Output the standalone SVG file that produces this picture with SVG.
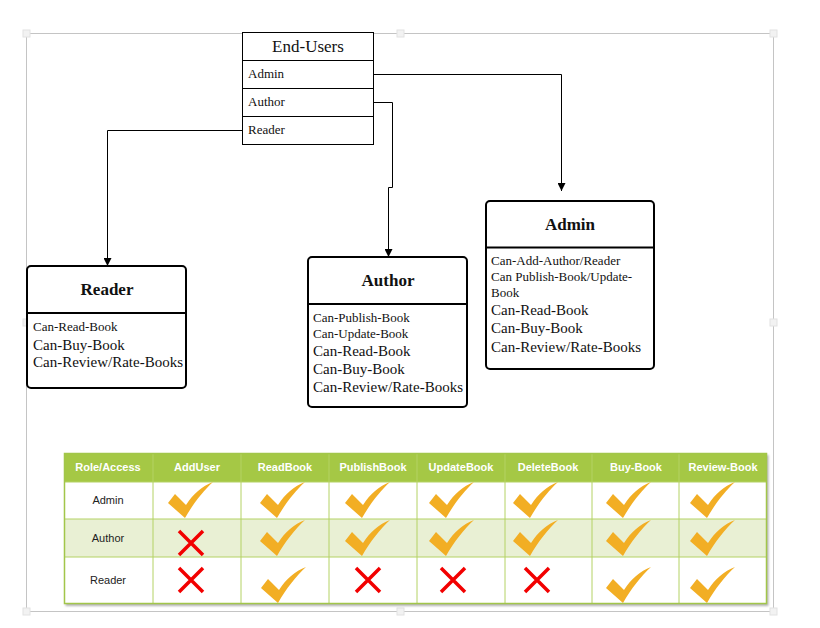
<svg xmlns="http://www.w3.org/2000/svg" width="820" height="628" viewBox="0 0 820 628">
<style>
.frame{fill:none;stroke:#c4c4c4;stroke-width:1}
.handle{fill:#f2f2f2;stroke:#e2e2e2;stroke-width:1}
.box{fill:#fff;stroke:#000;stroke-width:1}
.rbox{fill:#fff;stroke:#000;stroke-width:2}
.div{stroke:#000;stroke-width:2}
.conn{fill:none;stroke:#000;stroke-width:1}
.serif{font-family:"Liberation Serif","Times New Roman",serif;fill:#111}
.title{font-size:17px;font-weight:bold;text-anchor:middle}
.sm{font-size:13px}
.lg{font-size:15px}
.th{font-family:"Liberation Sans",Arial,sans-serif;font-size:11px;font-weight:bold;fill:#fff;text-anchor:middle}
.td{font-family:"Liberation Sans",Arial,sans-serif;font-size:11px;fill:#222;text-anchor:middle}
.grid{stroke:#b4d265;stroke-width:1}
.check{fill:#f2ae24}
.cross{stroke:#f20000;stroke-width:3.5;fill:none}
</style>
<defs>
<marker id="arr" viewBox="0 0 10 10" refX="10" refY="5" markerWidth="8" markerHeight="8" orient="auto" markerUnits="userSpaceOnUse">
<path d="M0,0 L10,5 L0,10 Z" fill="#000"/>
</marker>
<path id="chk" class="check" d="M0,0 L-17,-15 L-10,-24 L1,-13 C8,-24 17,-32 28,-36 C18,-27 8,-14 0,0 Z"/>
<path id="x" class="cross" d="M-12,-12 L12,12 M12,-12 L-12,12"/>
<filter id="sh" x="-5%" y="-5%" width="110%" height="115%">
<feDropShadow dx="1.5" dy="2" stdDeviation="1.2" flood-color="#000" flood-opacity="0.3"/>
</filter>
</defs>
<rect width="820" height="628" fill="#fff"/>
<g id="frame">
<rect class="frame" x="26.5" y="33.5" width="747" height="578"/>
<rect class="handle" x="23" y="30" width="7" height="7"/>
<rect class="handle" x="397" y="30" width="7" height="7"/>
<rect class="handle" x="770" y="30" width="7" height="7"/>
<rect class="handle" x="23" y="319" width="7" height="7"/>
<rect class="handle" x="770" y="319" width="7" height="7"/>
<rect class="handle" x="23" y="608" width="7" height="7"/>
<rect class="handle" x="397" y="608" width="7" height="7"/>
<rect class="handle" x="770" y="608" width="7" height="7"/>
</g>
<g id="connectors">
<path class="conn" d="M374,74.5 H561.5 V191" marker-end="url(#arr)"/>
<path class="conn" d="M374,102.5 H392.5 V187.5 H388.5 V257" marker-end="url(#arr)"/>
<path class="conn" d="M242,130.5 H107.5 V266" marker-end="url(#arr)"/>
</g>
<g id="end-users">
<rect class="box" x="242.5" y="32.5" width="131" height="112"/>
<line class="conn" x1="242.5" y1="60.5" x2="373.5" y2="60.5"/>
<line class="conn" x1="242.5" y1="88.5" x2="373.5" y2="88.5"/>
<line class="conn" x1="242.5" y1="116.5" x2="373.5" y2="116.5"/>
<text class="serif" x="308" y="52" font-size="17" text-anchor="middle">End-Users</text>
<text class="serif sm" x="248" y="78">Admin</text>
<text class="serif sm" x="248" y="106">Author</text>
<text class="serif sm" x="248" y="134">Reader</text>
</g>
<g id="reader">
<rect class="rbox" x="27" y="266" width="159" height="122" rx="4"/>
<line class="div" x1="27" y1="313" x2="186" y2="313"/>
<text class="serif title" x="107" y="295">Reader</text>
<text class="serif sm" x="33" y="331">Can-Read-Book</text>
<text class="serif lg" x="33" y="350">Can-Buy-Book</text>
<text class="serif lg" x="33" y="367">Can-Review/Rate-Books</text>
</g>
<g id="author">
<rect class="rbox" x="308" y="257" width="159" height="150" rx="4"/>
<line class="div" x1="308" y1="304" x2="467" y2="304"/>
<text class="serif title" x="388" y="286">Author</text>
<text class="serif sm" x="313" y="322">Can-Publish-Book</text>
<text class="serif sm" x="313" y="338">Can-Update-Book</text>
<text class="serif lg" x="313" y="356">Can-Read-Book</text>
<text class="serif lg" x="313" y="374">Can-Buy-Book</text>
<text class="serif lg" x="313" y="392">Can-Review/Rate-Books</text>
</g>
<g id="admin">
<rect class="rbox" x="486" y="201" width="168" height="168" rx="4"/>
<line class="div" x1="486" y1="247.5" x2="654" y2="247.5"/>
<text class="serif title" x="570" y="230">Admin</text>
<text class="serif sm" x="491" y="265">Can-Add-Author/Reader</text>
<text class="serif sm" x="491" y="281">Can Publish-Book/Update-</text>
<text class="serif sm" x="491" y="297">Book</text>
<text class="serif lg" x="491" y="315">Can-Read-Book</text>
<text class="serif lg" x="491" y="333">Can-Buy-Book</text>
<text class="serif lg" x="491" y="352">Can-Review/Rate-Books</text>
</g>
<g id="access-table">
<rect x="64" y="453" width="703" height="151" fill="#fff" filter="url(#sh)"/>
<rect x="64" y="453" width="703" height="29" fill="#a5c845"/>
<rect x="64" y="519" width="703" height="38" fill="#e9f0d4"/>
<g class="grid">
<line x1="64" y1="482" x2="767" y2="482"/>
<line x1="64" y1="519" x2="767" y2="519"/>
<line x1="64" y1="557" x2="767" y2="557"/>
<line x1="153" y1="453" x2="153" y2="604"/>
<line x1="241" y1="453" x2="241" y2="604"/>
<line x1="329" y1="453" x2="329" y2="604"/>
<line x1="417" y1="453" x2="417" y2="604"/>
<line x1="505" y1="453" x2="505" y2="604"/>
<line x1="592" y1="453" x2="592" y2="604"/>
<line x1="679" y1="453" x2="679" y2="604"/>
</g>
<rect x="64.5" y="453.5" width="702" height="150" fill="none" stroke="#a2c64a" stroke-width="1.5"/>
<text class="th" x="108" y="471">Role/Access</text>
<text class="th" x="197" y="471">AddUser</text>
<text class="th" x="285" y="471">ReadBook</text>
<text class="th" x="373" y="471">PublishBook</text>
<text class="th" x="461" y="471">UpdateBook</text>
<text class="th" x="548" y="471">DeleteBook</text>
<text class="th" x="636" y="471">Buy-Book</text>
<text class="th" x="723" y="471">Review-Book</text>
<text class="td" x="108" y="504">Admin</text>
<text class="td" x="108" y="542">Author</text>
<text class="td" x="108" y="584">Reader</text>
<use href="#chk" x="185" y="518"/>
<use href="#chk" x="277" y="518"/>
<use href="#chk" x="362" y="518"/>
<use href="#chk" x="446" y="518"/>
<use href="#chk" x="530" y="518"/>
<use href="#chk" x="623" y="518"/>
<use href="#chk" x="707" y="518"/>
<use href="#x" x="191" y="543"/>
<use href="#chk" x="277" y="556"/>
<use href="#chk" x="362" y="556"/>
<use href="#chk" x="446" y="556"/>
<use href="#chk" x="530" y="556"/>
<use href="#chk" x="623" y="556"/>
<use href="#chk" x="707" y="556"/>
<use href="#x" x="191" y="580"/>
<use href="#chk" x="278" y="603"/>
<use href="#x" x="368" y="580"/>
<use href="#x" x="453" y="580"/>
<use href="#x" x="537" y="580"/>
<use href="#chk" x="623" y="603"/>
<use href="#chk" x="707" y="603"/>
</g>
</svg>
